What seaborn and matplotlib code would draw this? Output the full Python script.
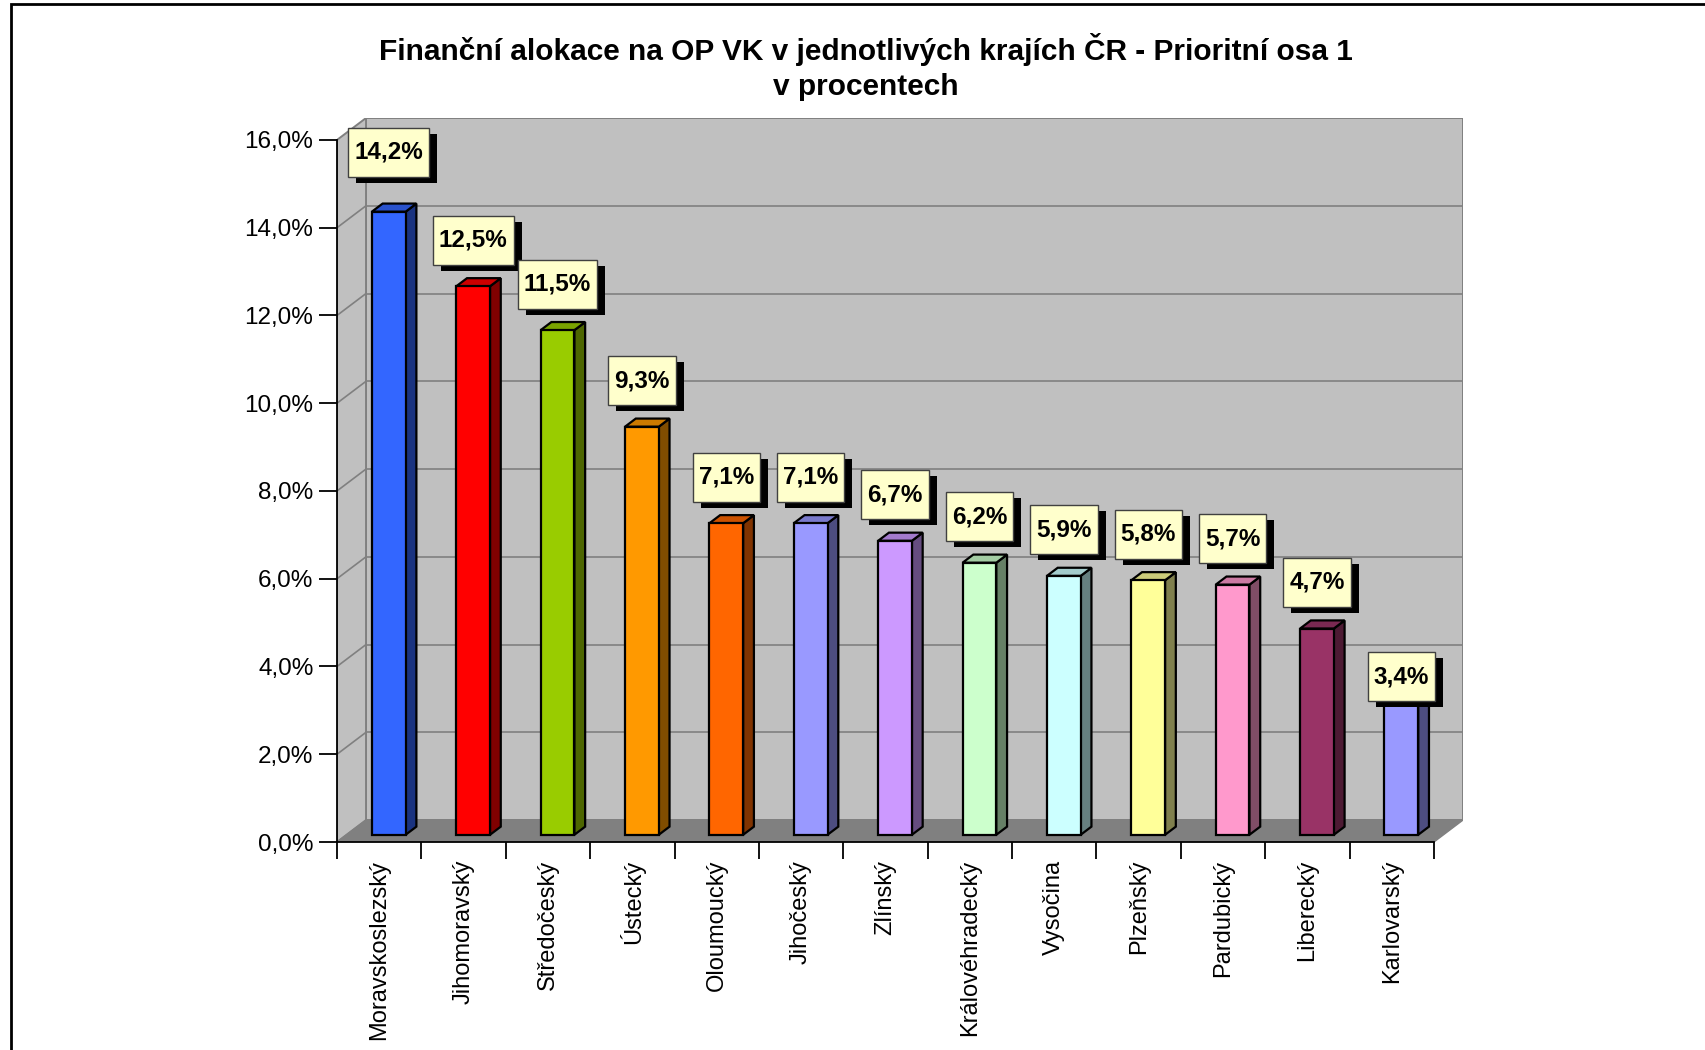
import numpy as np
import pandas as pd
import matplotlib
matplotlib.use("Agg")
import matplotlib.pyplot as plt
import seaborn as sns
from matplotlib.patches import Polygon, Rectangle
from matplotlib.transforms import IdentityTransform
from matplotlib.ticker import FixedLocator, FuncFormatter
from matplotlib.colors import to_rgb

# ---------------- data ----------------
regions = ["Moravskoslezský", "Jihomoravský", "Středočeský", "Ústecký", "Oloumoucký",
           "Jihočeský", "Zlínský", "Královéhradecký", "Vysočina", "Plzeňský",
           "Pardubický", "Liberecký", "Karlovarský"]
shares = [14.2, 12.5, 11.5, 9.3, 7.1, 7.1, 6.7, 6.2, 5.9, 5.8, 5.7, 4.7, 3.4]
bar_colors = ["#3366FF", "#FF0000", "#99CC00", "#FF9900", "#FF6600", "#9999FF",
              "#CC99FF", "#CCFFCC", "#CCFFFF", "#FFFF99", "#FF99CC", "#993366", "#9999FF"]
y_ticks = [0, 2, 4, 6, 8, 10, 12, 14, 16]
title_lines = ["Finanční alokace na OP VK v jednotlivých krajích ČR - Prioritní osa 1",
               "v procentech"]

# ---------------- style ----------------
sns.set_theme(style="ticks")
plt.rcParams['font.family'] = ['Liberation Sans', 'DejaVu Sans']

W, H = 1706, 1050
fig = plt.figure(figsize=(W / 100, H / 100), dpi=100)
fig.patch.set_facecolor("white")
ax = fig.add_axes([337 / W, 208 / H, (1463 - 337) / W, 724 / H])
ax.set_facecolor("none")

n = len(regions)
dX, dY = 0.344, 0.5            # depth of the 3D box in data units
xmin, xmax = -0.5, n - 0.5
ymax = y_ticks[-1]

df = pd.DataFrame({"region": regions, "share": shares})
sns.barplot(data=df, x="region", y="share", hue="region", palette=bar_colors,
            saturation=1, width=0.40, edgecolor="black", linewidth=1.6,
            legend=False, ax=ax, zorder=3)
bars = list(ax.patches)

# walls and floor
wall_c, edge_c = "#C0C0C0", "#808080"
ax.add_patch(Rectangle((xmin + dX, dY), n, ymax, fc=wall_c, ec=edge_c, lw=1.4, zorder=0))
ax.add_patch(Polygon([(xmin, 0), (xmin, ymax), (xmin + dX, ymax + dY), (xmin + dX, dY)],
                     closed=True, fc=wall_c, ec=edge_c, lw=1.4, zorder=0.2))
ax.add_patch(Polygon([(xmin, 0), (xmax, 0), (xmax + dX, dY), (xmin + dX, dY)],
                     closed=True, fc="#808080", ec="#808080", lw=1, zorder=0.5))
for t in y_ticks[1:-1]:
    ax.plot([xmin + dX, xmax + dX], [t + dY, t + dY], color=edge_c, lw=1.2, zorder=0.3)
    ax.plot([xmin, xmin + dX], [t, t + dY], color=edge_c, lw=1.2, zorder=0.3)

# 3D bars: shift front faces into the box, add side and top faces
f0, fd = 0.33, 0.37
bdx, bdy = f0 * dX, f0 * dY
ddx, ddy = fd * dX, fd * dY
label_gap = 1.05
label_gap_override = {0: 1.36, n - 1: 0.2}   # Excel placed these two labels differently
label_texts = []
for i, (p, v) in enumerate(zip(bars, shares)):
    p.set_x(p.get_x() + bdx)
    p.set_y(p.get_y() + bdy)
    x0 = p.get_x(); x1 = x0 + p.get_width()
    y0 = p.get_y(); y1 = y0 + p.get_height()
    c = np.array(to_rgb(p.get_facecolor()))
    ax.add_patch(Polygon([(x1, y0), (x1 + ddx, y0 + ddy), (x1 + ddx, y1 + ddy), (x1, y1)],
                         closed=True, fc=c * 0.5, ec="black", lw=1.6, zorder=2.9))
    ax.add_patch(Polygon([(x0, y1), (x1, y1), (x1 + ddx, y1 + ddy), (x0 + ddx, y1 + ddy)],
                         closed=True, fc=c * 0.8, ec="black", lw=1.6, zorder=2.9))
    gap = label_gap_override.get(i, label_gap)
    txt = ax.text((x0 + x1) / 2, y1 + gap, f"{v:.1f}%".replace(".", ","),
                  ha="center", va="center", fontsize=17.5, fontweight="bold",
                  color="black", zorder=7, clip_on=False)
    label_texts.append(txt)

# axes setup
ax.set_xlim(xmin, xmax + dX)
ax.set_ylim(0, ymax + dY)
ax.set_xlabel("")
ax.set_ylabel("")
for s in ["top", "right"]:
    ax.spines[s].set_visible(False)
ax.spines["left"].set_bounds(0, ymax)
ax.spines["bottom"].set_bounds(xmin, xmax)
for s in ["left", "bottom"]:
    ax.spines[s].set_color("black")
    ax.spines[s].set_linewidth(1.3)
    ax.spines[s].set_zorder(4)

ax.yaxis.set_major_locator(FixedLocator(y_ticks))
ax.yaxis.set_major_formatter(FuncFormatter(lambda v, _: f"{v:.1f}%".replace(".", ",")))
ax.tick_params(axis="y", which="major", left=True, length=13, width=1.3, color="black",
               pad=4, labelsize=17.5, labelcolor="black")
ax.set_xticks(range(n))
ax.set_xticklabels(regions, rotation=90, ha="center", va="top")
ax.xaxis.set_minor_locator(FixedLocator(np.arange(n + 1) - 0.5))
ax.tick_params(axis="x", which="major", bottom=True, length=0, pad=13,
               labelsize=17, labelcolor="black")
ax.tick_params(axis="x", which="minor", bottom=True, length=12, width=1.3,
               color="black", direction="out")

# title
fig.text(866 / W, 1 - 67 / H, "\n".join(title_lines), ha="center", va="center",
         fontsize=21.5, fontweight="bold", linespacing=1.35, color="black")

# figure frame (runs off the right and bottom edges)
fig.add_artist(Rectangle((11.5 / W, -0.1), 1.5, 1.1 - 4 / H, transform=fig.transFigure,
                         fill=False, ec="black", lw=2, clip_on=False))

# label boxes with shadows
fig.canvas.draw()
renderer = fig.canvas.get_renderer()
for txt in label_texts:
    bb = txt.get_window_extent(renderer)
    cx, cy = (bb.x0 + bb.x1) / 2, (bb.y0 + bb.y1) / 2
    w, h = bb.width + 12, 49
    shadow = Rectangle((cx - w / 2 + 8, cy - h / 2 - 6), w, h, transform=IdentityTransform(),
                       fc="black", ec="none", zorder=5, clip_on=False)
    box = Rectangle((cx - w / 2, cy - h / 2), w, h, transform=IdentityTransform(),
                    fc="#FFFFCC", ec="#404040", lw=1.0, zorder=6, clip_on=False)
    ax.add_artist(shadow)
    ax.add_artist(box)

fig.savefig("out.png", dpi=100)
